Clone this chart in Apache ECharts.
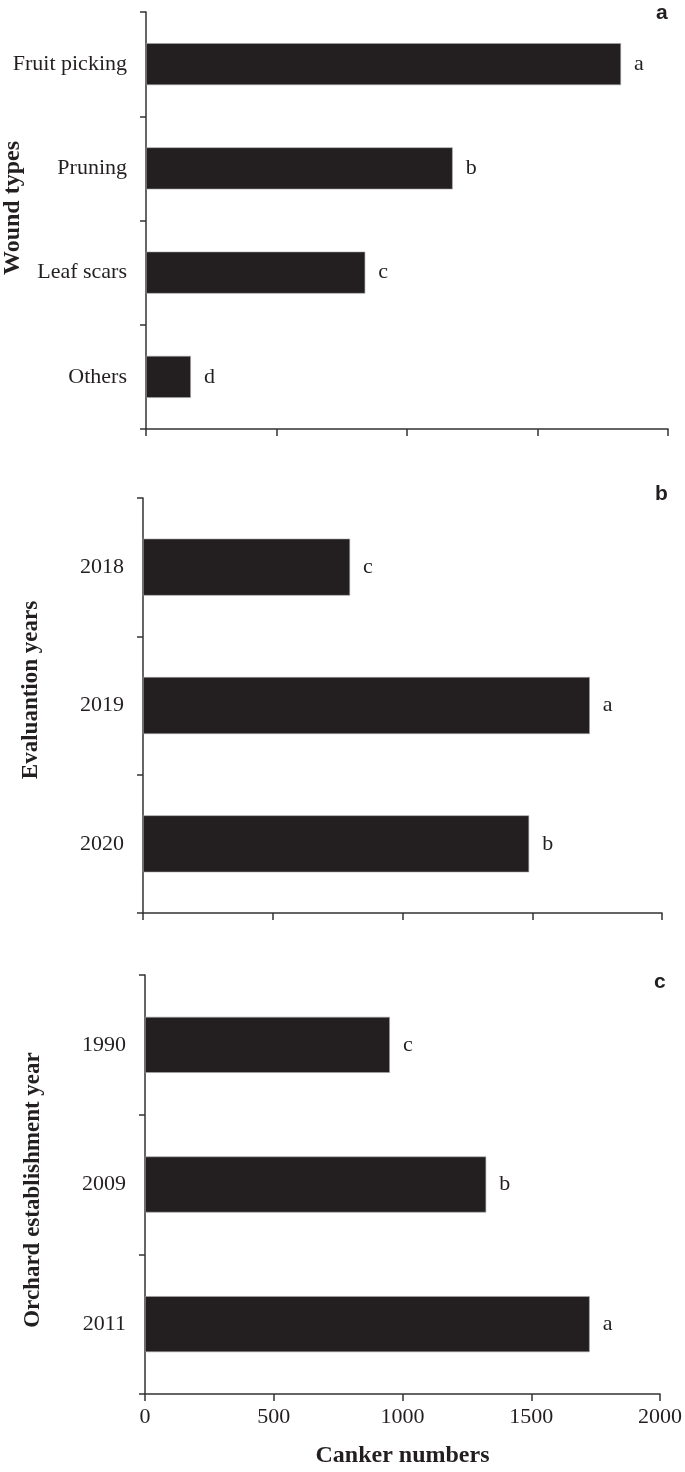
<!DOCTYPE html>
<html>
<head>
<meta charset="utf-8">
<script src="https://cdn.jsdelivr.net/npm/echarts@6/dist/echarts.min.js"></script>
<style>
  html, body { margin: 0; padding: 0; background: #fff; }
  #main { width: 685px; height: 1472px; }
</style>
</head>
<body>
<div id="main"></div>
<script>
// panel a - wound types
var woundTypes = ['Fruit picking', 'Pruning', 'Leaf scars', 'Others'];
var woundCounts = [1820, 1175, 840, 172];
var woundLetters = ['a', 'b', 'c', 'd'];

// panel b - evaluation years
var evalYears = ['2018', '2019', '2020'];
var evalCounts = [798, 1722, 1488];
var evalLetters = ['c', 'a', 'b'];

// panel c - orchard establishment year
var orchardYears = ['1990', '2009', '2011'];
var orchardCounts = [951, 1325, 1727];
var orchardLetters = ['c', 'b', 'a'];

var xMin = 0, xMax = 2000, xStep = 500;

var ink = '#231f20';
var serif = '"Liberation Serif", "Times New Roman", serif';
var panelFont = 'bold 21px "Liberation Sans", Arial, sans-serif';

var chart = echarts.init(document.getElementById('main'));

function valueAxis(idx, showLabels) {
  return {
    type: 'value', gridIndex: idx, min: xMin, max: xMax, interval: xStep,
    axisLine: { show: true, lineStyle: { color: '#333', width: 1.5 } },
    axisTick: { show: true, length: 7, lineStyle: { color: '#333', width: 1.5 } },
    splitLine: { show: false },
    axisLabel: {
      show: showLabels, fontFamily: serif, fontSize: 22, color: ink, margin: 12,
      formatter: function (v) { return String(v); }
    },
    name: showLabels ? 'Canker numbers' : '',
    nameLocation: 'middle', nameGap: 50,
    nameTextStyle: { fontFamily: serif, fontSize: 24, fontWeight: 'bold', color: ink }
  };
}

function catAxis(idx, cats) {
  return {
    type: 'category', gridIndex: idx, data: cats, inverse: true,
    axisLine: { show: true, lineStyle: { color: '#333', width: 1.5 } },
    axisTick: { show: true, length: 6, lineStyle: { color: '#333', width: 1.5 } },
    axisLabel: { fontFamily: serif, fontSize: 22, color: ink, margin: 19 }
  };
}

function barSeries(idx, vals, letters, w) {
  return {
    type: 'bar', xAxisIndex: idx, yAxisIndex: idx, data: vals, barWidth: w,
    itemStyle: { color: ink, borderColor: '#aaa', borderWidth: 0.6 },
    label: {
      show: true, position: 'right', distance: 13,
      fontFamily: serif, fontSize: 22, color: ink,
      formatter: function (p) { return letters[p.dataIndex]; }
    },
    silent: true
  };
}

var option = {
  animation: false,
  backgroundColor: '#fff',
  grid: [
    { left: 146, right: 17, top: 12, height: 417 },
    { left: 143, right: 23, top: 498, height: 415 },
    { left: 145, right: 25, top: 975, height: 419 }
  ],
  xAxis: [valueAxis(0, false), valueAxis(1, false), valueAxis(2, true)],
  yAxis: [catAxis(0, woundTypes), catAxis(1, evalYears), catAxis(2, orchardYears)],
  series: [
    barSeries(0, woundCounts, woundLetters, 42),
    barSeries(1, evalCounts, evalLetters, 57),
    barSeries(2, orchardCounts, orchardLetters, 56)
  ],
  graphic: [
    { type: 'text', left: 656, top: 3, style: { text: 'a', font: panelFont, fill: ink } },
    { type: 'text', left: 655, top: 484, style: { text: 'b', font: panelFont, fill: ink } },
    { type: 'text', left: 654, top: 972, style: { text: 'c', font: panelFont, fill: ink } },
    { type: 'text', x: 13, y: 208, rotation: Math.PI / 2,
      style: { text: 'Wound types', font: 'bold 24px "Liberation Serif", serif', fill: ink, align: 'center', verticalAlign: 'middle' } },
    { type: 'text', x: 31, y: 690, rotation: Math.PI / 2,
      style: { text: 'Evaluantion years', font: 'bold 23px "Liberation Serif", serif', fill: ink, align: 'center', verticalAlign: 'middle' } },
    { type: 'text', x: 33, y: 1190, rotation: Math.PI / 2,
      style: { text: 'Orchard establishment year', font: 'bold 23px "Liberation Serif", serif', fill: ink, align: 'center', verticalAlign: 'middle' } }
  ]
};

chart.setOption(option);
</script>
</body>
</html>
